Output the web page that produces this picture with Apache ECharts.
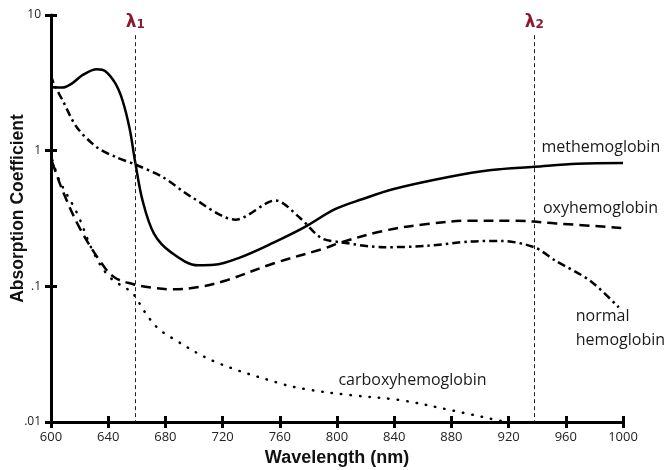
<!DOCTYPE html>
<html>
<head>
<meta charset="utf-8">
<script src="https://cdn.jsdelivr.net/npm/echarts@6/dist/echarts.min.js"></script>
<style>
html,body{margin:0;padding:0;background:#fff;}
#c{width:670px;height:470px;}
</style>
</head>
<body>
<div id="c"></div>
<script>
// Wavelength ticks
var xTicks = [600, 640, 680, 720, 760, 800, 840, 880, 920, 960, 1000];
var yTickLabels = {"10": "10", "1": "1", "0.1": ".1", "0.01": ".01"};

// Methemoglobin (solid)
var metX = [600, 608, 615, 622, 632, 638, 645, 650, 655, 659, 664, 672, 684, 703, 714, 732, 756, 777, 799, 818, 839, 878, 908, 938, 968, 1000];
var metY = [2.93, 2.92, 3.15, 3.6, 3.98, 3.85, 3.13, 2.35, 1.45, 0.81, 0.43, 0.245, 0.178, 0.143, 0.144, 0.163, 0.211, 0.272, 0.372, 0.44, 0.52, 0.64, 0.72, 0.76, 0.80, 0.81];

// Oxyhemoglobin (dashed)
var oxyX = [601, 608, 620, 634, 644, 657, 670, 685, 704, 723, 756, 791, 803, 833, 863, 893, 923, 953, 1000];
var oxyY = [0.82, 0.51, 0.27, 0.155, 0.117, 0.104, 0.098, 0.095, 0.099, 0.111, 0.148, 0.19, 0.211, 0.257, 0.288, 0.305, 0.305, 0.291, 0.269];

// Normal hemoglobin (dash-dot)
var normX = [600, 602, 608, 618, 632, 645, 659, 678, 699, 729, 757, 774, 789, 803, 833, 863, 893, 915, 938, 953, 977, 997];
var normY = [3.6, 3.1, 2.36, 1.49, 1.06, 0.9, 0.79, 0.64, 0.45, 0.31, 0.43, 0.32, 0.227, 0.211, 0.194, 0.199, 0.214, 0.216, 0.194, 0.154, 0.110, 0.070];

// Carboxyhemoglobin (dotted)
var carbX = [601, 606, 618, 630, 641, 657, 665, 674, 684, 714, 759, 779, 809, 844, 880, 916];
var carbY = [0.85, 0.60, 0.35, 0.175, 0.117, 0.089, 0.066, 0.05, 0.042, 0.028, 0.0194, 0.0174, 0.0158, 0.0145, 0.0122, 0.0101];

// Marker wavelengths
var lambdaX = [659, 938];
var lambdaNames = ["1", "2"];

function pairs(xs, ys) { return xs.map(function (x, i) { return [x, ys[i]]; }); }

var chart = echarts.init(document.getElementById('c'), null, {renderer: 'canvas'});
var labelFont = {fontFamily: 'Open Sans', fontSize: 16, color: '#1a1a1a'};
var tickFont = {fontFamily: '"Open Sans", sans-serif', fontSize: 13, color: '#222'};

var option = {
  animation: false,
  backgroundColor: '#fff',
  grid: {left: 51, right: 47, top: 15, bottom: 48, containLabel: false, outerBoundsMode: 'none'},
  xAxis: [{
    type: 'value', min: 600, max: 1000, interval: 40,
    axisLine: {show: true, lineStyle: {color: '#000', width: 3}},
    axisTick: {show: true, inside: false, length: 6, lineStyle: {color: '#000', width: 3}},
    axisLabel: Object.assign({margin: 9, formatter: function (v) { return xTicks.indexOf(v) >= 0 ? String(v) : ''; }}, tickFont),
    splitLine: {show: false},
    name: 'Wavelength (nm)', nameLocation: 'middle', nameGap: 27, nameMoveOverlap: false,
    nameTextStyle: {fontFamily: '"Liberation Sans", Arial, sans-serif', fontWeight: 'bold', fontSize: 18, color: '#111'}
  }, {
    type: 'value', min: 600, max: 1000, interval: 40, position: 'bottom',
    axisLine: {show: false},
    axisTick: {show: true, inside: true, length: 6, lineStyle: {color: '#000', width: 3}},
    axisLabel: {show: false}, splitLine: {show: false}
  }],
  yAxis: [{
    type: 'log', logBase: 10, min: 0.01, max: 10,
    axisLine: {show: true, lineStyle: {color: '#000', width: 3}},
    axisTick: {show: true, inside: false, length: 6, lineStyle: {color: '#000', width: 3}},
    axisLabel: Object.assign({margin: 10, formatter: function (v) { var k = String(v); return yTickLabels[k] !== undefined ? yTickLabels[k] : ''; }}, tickFont, {fontSize: 12}),
    splitLine: {show: false}, minorTick: {show: false},
    name: 'Absorption Coefficient', nameLocation: 'middle', nameGap: 24, nameMoveOverlap: false,
    nameTextStyle: {fontFamily: '"Liberation Sans", Arial, sans-serif', fontWeight: 'bold', fontSize: 17.5, color: '#111', padding: [0, 0, 0, 20]}
  }, {
    type: 'log', logBase: 10, min: 0.01, max: 10, position: 'left',
    axisLine: {show: false},
    axisTick: {show: true, inside: true, length: 6, lineStyle: {color: '#000', width: 3}},
    axisLabel: {show: false}, splitLine: {show: false}
  }],
  series: [
    {
      name: 'methemoglobin', type: 'line', silent: true, showSymbol: false, smooth: 0.35,
      data: pairs(metX, metY),
      lineStyle: {color: '#000', width: 2.5},
      markPoint: {symbol: 'circle', symbolSize: 0, silent: true, data: [{coord: [943, 1.06], label: Object.assign({show: true, position: 'right', distance: 0, formatter: 'methemoglobin'}, labelFont)}]},
      markLine: {
        silent: true, symbol: ['none', 'none'],
        lineStyle: {color: '#222', width: 1, type: [4, 3]},
        label: {
          show: true, position: 'start', distance: 4,
          formatter: function (p) { return '{l|λ}{s|' + p.name + '}'; },
          rich: {
            l: {fontFamily: 'DejaVu Sans', fontWeight: 'bold', fontSize: 17, color: '#8c1a2e'},
            s: {fontFamily: 'DejaVu Sans', fontWeight: 'bold', fontSize: 12, color: '#8c1a2e', verticalAlign: 'bottom', padding: [6, 0, 0, 0]}
          }
        },
        data: lambdaX.map(function (x, i) { return [{coord: [x, 7.1], name: lambdaNames[i]}, {coord: [x, 0.01]}]; })
      }
    },
    {
      name: 'oxyhemoglobin', type: 'line', silent: true, showSymbol: false, smooth: 0.35,
      data: pairs(oxyX, oxyY),
      lineStyle: {color: '#000', width: 2.5, type: [10, 6]},
      markPoint: {symbol: 'circle', symbolSize: 0, silent: true, data: [{coord: [944, 0.377], label: Object.assign({show: true, position: 'right', distance: 0, formatter: 'oxyhemoglobin'}, labelFont)}]}
    },
    {
      name: 'normal hemoglobin', type: 'line', silent: true, showSymbol: false, smooth: 0.3,
      data: pairs(normX, normY),
      lineStyle: {color: '#000', width: 2.5, type: [8, 4, 2.5, 4]},
      markPoint: {symbol: 'circle', symbolSize: 0, silent: true, data: [{coord: [967, 0.049], label: Object.assign({show: true, position: 'right', distance: 0, lineHeight: 24, formatter: 'normal\nhemoglobin'}, labelFont)}]}
    },
    {
      name: 'carboxyhemoglobin', type: 'line', silent: true, showSymbol: false, smooth: 0.35,
      data: pairs(carbX, carbY),
      lineStyle: {color: '#000', width: 2.5, type: [0.5, 9], cap: 'round'},
      markPoint: {symbol: 'circle', symbolSize: 0, silent: true, data: [{coord: [801, 0.0202], label: Object.assign({show: true, position: 'right', distance: 0, formatter: 'carboxyhemoglobin'}, labelFont)}]}
    }
  ]
};
chart.setOption(option);
</script>
</body>
</html>
